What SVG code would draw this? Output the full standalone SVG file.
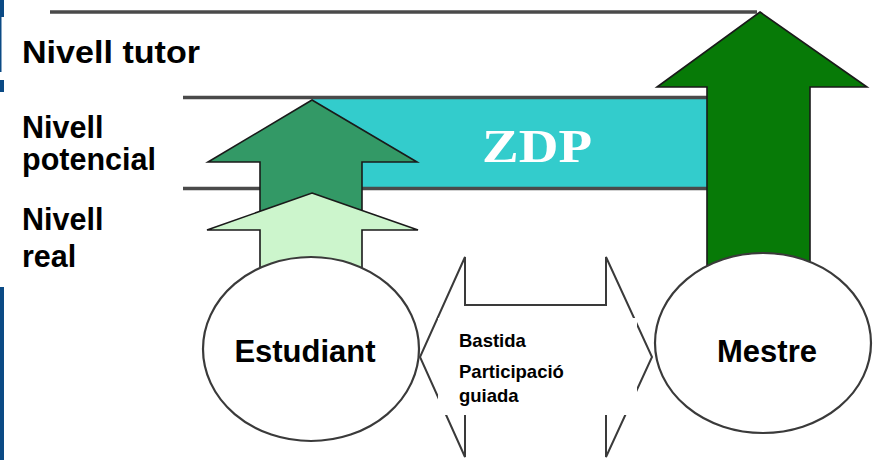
<svg xmlns="http://www.w3.org/2000/svg" width="877" height="460" viewBox="0 0 877 460">
<style>
.lbl{font-family:"Liberation Sans",Arial,sans-serif;font-weight:bold;fill:#000}
.arr{stroke:#1a1a1a;stroke-width:1.6;stroke-linejoin:miter}
.node{fill:#fff;stroke:#3a3a3a;stroke-width:2.2}
.line{stroke:#4a4a4a;stroke-width:3.5}
.bar{fill:#0b4a85}
</style>
<rect width="877" height="460" fill="#fff"/>
<g id="side-bar">
<rect class="bar" x="0" y="0" width="4" height="17"/>
<rect class="bar" x="0" y="17" width="1.5" height="55"/>
<rect class="bar" x="0" y="80" width="4" height="12"/>
<rect class="bar" x="0" y="287" width="4" height="173"/>
</g>
<g id="level-tutor">
<line class="line" x1="50" y1="12" x2="757" y2="12"/>
</g>
<g id="zdp">
<rect x="312" y="99" width="395" height="89" fill="#33cccc"/>
<line class="line" x1="183" y1="97.5" x2="707" y2="97.5"/>
<line class="line" x1="183" y1="188.5" x2="707" y2="188.5"/>
<text x="537" y="162" text-anchor="middle" font-family="Liberation Serif,'Times New Roman',serif" font-weight="bold" font-size="47" fill="#fff" textLength="110" lengthAdjust="spacingAndGlyphs">ZDP</text>
</g>
<g id="arrow-mestre">
<polygon class="arr" fill="#077a07" points="760,12 867,87 810,87 810,280 707,280 707,87 657,87"/>
</g>
<g id="arrow-potencial">
<polygon class="arr" fill="#339966" points="312,100 417,162 362,162 362,220 260,220 260,162 208,162"/>
</g>
<g id="arrow-real">
<polygon class="arr" fill="#ccf5cc" points="312,193 418,230 362,230 362,285 260,285 260,230 207,230"/>
</g>
<g id="connectors">
<polygon fill="#fff" stroke="#3a3a3a" stroke-width="2" points="465,257 465,305 606,305 606,257 652,357 606,457 606,409 465,409 465,457 420,357"/>
</g>
<g id="node-estudiant">
<ellipse class="node" cx="311" cy="349" rx="108" ry="92"/>
<text class="lbl" x="305" y="362" font-size="31" text-anchor="middle">Estudiant</text>
</g>
<g id="node-mestre">
<ellipse class="node" cx="763" cy="343" rx="108" ry="90"/>
<text class="lbl" x="767" y="362" font-size="31" text-anchor="middle">Mestre</text>
</g>
<g id="bastida-label">
<rect x="438" y="318" width="199" height="97" fill="#fff"/>
<text class="lbl" x="459" y="347" font-size="18.5">Bastida</text>
<text class="lbl" x="459" y="378" font-size="18.5">Participació</text>
<text class="lbl" x="459" y="402" font-size="18.5">guiada</text>
</g>
<g id="labels">
<text class="lbl" x="22" y="63" font-size="32" textLength="178" lengthAdjust="spacingAndGlyphs">Nivell tutor</text>
<text class="lbl" x="22" y="138" font-size="30.5">Nivell</text>
<text class="lbl" x="22" y="170" font-size="30.5">potencial</text>
<text class="lbl" x="22" y="230" font-size="30.5">Nivell</text>
<text class="lbl" x="22" y="267" font-size="30.5">real</text>
</g>
</svg>
